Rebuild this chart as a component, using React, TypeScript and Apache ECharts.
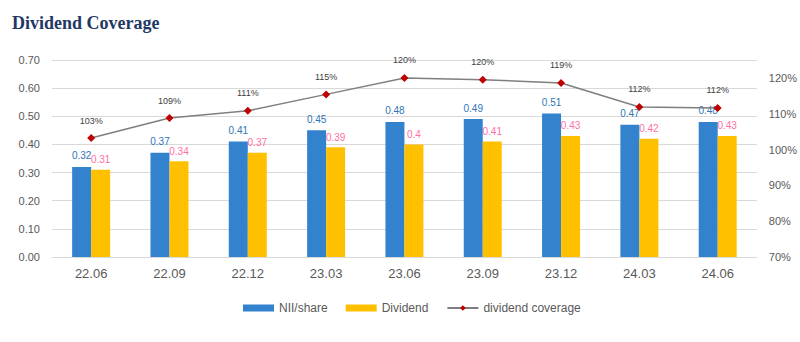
import React, { useEffect, useRef } from "react";
import * as echarts from "echarts";

const categories = ["22.06", "22.09", "22.12", "23.03", "23.06", "23.09", "23.12", "24.03", "24.06"];
const niiPerShare = [0.32, 0.37, 0.41, 0.45, 0.48, 0.49, 0.51, 0.47, 0.48];
const dividend = [0.31, 0.34, 0.37, 0.39, 0.4, 0.41, 0.43, 0.42, 0.43];
const coverage = [103.2, 108.8, 110.8, 115.4, 120.0, 119.5, 118.6, 111.9, 111.6];
const coverageLabels = ["103%", "109%", "111%", "115%", "120%", "120%", "119%", "112%", "112%"];

const FONT = "'Liberation Sans', Arial, sans-serif";

export default function App() {
  const ref = useRef<HTMLDivElement>(null);
  useEffect(() => {
    if (!ref.current) return;
    const chart = echarts.init(ref.current, undefined, { renderer: "svg" });
    chart.setOption({
      animation: false,
      backgroundColor: "#ffffff",
      title: {
        text: "Dividend Coverage",
        left: 12,
        top: 14,
        padding: 0,
        textStyle: {
          fontFamily: "'Liberation Serif', 'Times New Roman', serif",
          fontWeight: "bold",
          fontSize: 18,
          color: "#1F3864",
        },
      },
      legend: {
        bottom: 28,
        left: 243,
        padding: 0,
        itemWidth: 31,
        itemHeight: 7,
        itemGap: 18,
        textStyle: { fontFamily: FONT, fontSize: 12, color: "#595959" },
        data: [
          { name: "NII/share", icon: "rect" },
          { name: "Dividend", icon: "rect" },
          { name: "dividend coverage" },
        ],
      },
      grid: { left: 52, right: 40, top: 60, bottom: 85 },
      xAxis: {
        type: "category",
        data: categories,
        axisLine: { lineStyle: { color: "#D9D9D9" } },
        axisTick: { show: false },
        axisLabel: { color: "#595959", fontSize: 13, fontFamily: FONT, margin: 10 },
      },
      yAxis: [
        {
          type: "value",
          min: 0,
          max: 0.7,
          interval: 0.1,
          axisLine: { show: false },
          axisTick: { show: false },
          splitLine: { lineStyle: { color: "#D9D9D9", width: 1 } },
          axisLabel: {
            color: "#595959",
            fontSize: 11,
            fontFamily: FONT,
            margin: 12,
            formatter: (v: number) => v.toFixed(2),
          },
        },
        {
          type: "value",
          min: 70,
          max: 125,
          interval: 10,
          position: "right",
          axisLine: { show: false },
          axisTick: { show: false },
          splitLine: { show: false },
          axisLabel: {
            color: "#595959",
            fontSize: 11,
            fontFamily: FONT,
            margin: 12,
            showMaxLabel: false,
            formatter: (v: number) => (v > 120 ? "" : `${v}%`),
          },
        },
      ],
      series: [
        {
          name: "NII/share",
          type: "bar",
          data: niiPerShare,
          barWidth: 19,
          barGap: "0%",
          itemStyle: { color: "#3282CE" },
          label: {
            show: true,
            position: "top",
            distance: 6,
            color: "#2E75B6",
            fontSize: 10,
            fontFamily: FONT,
          },
        },
        {
          name: "Dividend",
          type: "bar",
          data: dividend,
          barWidth: 19,
          barGap: "0%",
          itemStyle: { color: "#FFC000" },
          label: {
            show: true,
            position: "top",
            distance: 5,
            color: "#FF6FA8",
            fontSize: 10,
            fontFamily: FONT,
          },
        },
        {
          name: "dividend coverage",
          type: "line",
          yAxisIndex: 1,
          data: coverage,
          symbol: "diamond",
          symbolSize: 8,
          lineStyle: { color: "#7F7F7F", width: 1.5 },
          itemStyle: { color: "#C00000" },
          label: {
            show: true,
            position: "top",
            distance: 9,
            color: "#404040",
            fontSize: 9,
            fontFamily: FONT,
            formatter: (p: any) => coverageLabels[p.dataIndex],
          },
          z: 5,
        },
      ],
    });
    return () => chart.dispose();
  }, []);
  return (
    <div
      ref={ref}
      style={{ position: "absolute", left: 0, top: 0, width: 800, height: 342 }}
    />
  );
}
